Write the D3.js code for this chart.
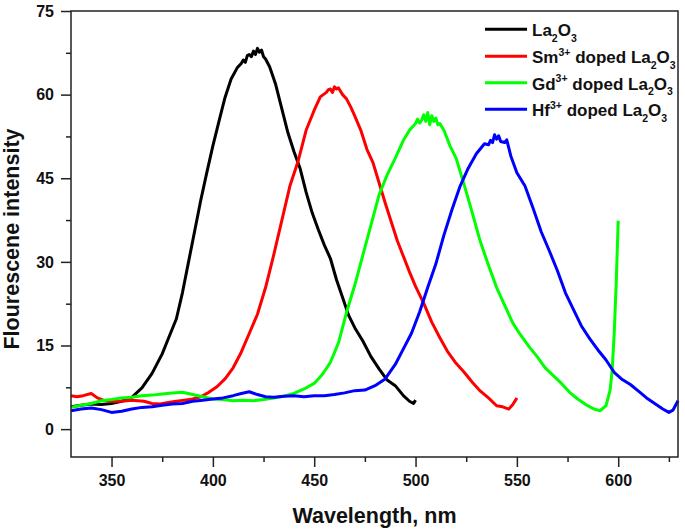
<!DOCTYPE html>
<html>
<head>
<meta charset="utf-8">
<script src="https://cdn.jsdelivr.net/npm/d3@7"></script>
<style>
  body { margin: 0; background: #fff; }
  text { font-family: "Liberation Sans", Arial, sans-serif; font-weight: bold; }
</style>
</head>
<body>
<div id="chart"></div>
<script>
// spectra (wavelength nm, intensity)
var laWave = [330,335,340,345,350,355,360,365,370,375,378,382,385,388,391,394,397,400,403,406,409,412,414,415,416,417,418,419,420,421,422,423,424,425,426,428,431,434,437,440,443,446,449,452,455,458,461,464,467,470,474,478,482,486,490,494,497,499,500];
var laVal  = [4.0,4.3,4.5,4.4,4.6,5.0,5.7,7.4,10.0,13.5,16.2,19.8,24.5,30.0,35.5,41.0,46.0,50.8,55.2,59.5,62.8,64.8,65.6,66.2,65.8,67.0,67.2,66.8,67.8,67.2,68.3,67.6,68.0,66.8,66.4,65.0,61.8,57.5,53.2,49.8,46.8,42.5,38.8,35.8,33.0,30.6,26.8,23.6,20.4,18.2,15.8,13.0,10.8,8.8,7.8,6.0,5.0,4.6,5.2];

var smWave = [330,333,336,340,343,346,350,355,360,366,370,374,378,382,386,390,394,398,402,406,410,414,418,422,426,430,434,438,442,446,450,453,456,457,458,459,460,461,462,464,466,468,470,473,476,479,482,485,488,491,494,497,500,504,508,512,516,520,524,528,532,536,540,543,546,548,550];
var smVal  = [6.0,5.8,6.0,6.4,5.6,5.2,5.0,5.0,5.2,5.0,4.6,4.5,4.8,5.0,5.2,5.4,5.8,6.6,7.6,9.0,11.0,13.8,17.2,20.6,25.4,31.2,37.4,43.6,48.0,53.6,57.2,59.6,60.4,60.9,61.0,60.4,61.4,61.0,61.2,60.0,59.2,57.8,56.2,53.6,50.2,47.8,44.2,40.6,37.2,33.8,31.0,28.2,25.6,22.6,19.2,16.4,13.8,11.8,10.2,8.4,6.8,5.6,4.2,4.0,3.6,4.4,5.6];

var gdWave = [330,335,340,345,350,355,360,365,370,375,380,385,390,395,400,405,410,415,420,425,430,435,440,445,450,454,458,462,466,470,474,478,482,486,490,494,497,500,501,502,503,504,505,506,507,508,509,510,511,512,514,517,520,524,528,532,536,540,544,548,552,556,560,564,568,572,576,580,584,588,591,594,596,597,598,599,600];
var gdVal  = [3.9,4.3,4.6,5.1,5.3,5.6,5.7,6.0,6.1,6.3,6.5,6.6,6.2,5.8,5.4,5.3,5.1,5.2,5.1,5.3,5.6,5.9,6.4,7.2,8.2,9.8,12.0,15.5,21.0,25.8,31.2,36.6,42.0,45.6,48.6,51.8,53.6,54.8,55.6,54.9,55.4,56.4,55.2,56.8,54.6,56.2,55.2,55.8,54.6,54.8,53.6,50.8,48.6,43.8,38.8,33.6,29.4,25.4,22.2,19.0,16.8,14.8,13.0,11.0,9.6,8.2,6.6,5.4,4.4,3.6,3.3,4.2,7.0,10.5,17.0,26.0,37.4];

var hfWave = [330,335,340,345,350,355,360,365,370,375,380,385,390,395,400,405,410,414,418,422,426,430,435,440,445,450,455,460,465,470,475,480,485,490,494,498,502,506,510,514,518,522,526,530,534,536,537,538,539,540,541,542,544,545,547,550,554,558,562,566,570,574,578,582,586,590,594,598,602,606,610,614,618,622,625,627,629.5];
var hfVal  = [3.3,3.6,3.8,3.5,3.0,3.2,3.6,3.9,4.0,4.3,4.5,4.6,5.0,5.2,5.4,5.6,6.0,6.4,6.7,6.2,5.8,5.7,5.9,6.0,5.8,6.0,6.0,6.2,6.5,6.9,7.0,7.8,9.0,11.6,14.4,17.2,21.0,25.4,29.6,34.8,39.4,43.6,46.8,49.4,51.2,51.0,51.8,51.4,52.8,52.0,52.6,51.6,51.4,51.9,49.0,46.0,43.6,39.6,35.4,32.0,28.4,24.4,21.4,18.4,16.2,14.2,12.4,10.2,8.9,8.0,6.8,5.6,4.6,3.6,3.0,3.4,5.1];

var seriesNames  = ["La2O3", "Sm", "Gd", "Hf"];
var seriesColors = ["#000000", "#ff0000", "#00ff00", "#0000ff"];

var xMajorTicks = [350,400,450,500,550,600];
var xMinorTicks = [375,425,475,525,575,625];
var yMajorTicks = [0,15,30,45,60,75];
var yMinorTicks = [7.5,22.5,37.5,52.5,67.5];

var width = 685, height = 530;
var margin = {top: 11, right: 7, bottom: 73, left: 71};

var svg = d3.select("#chart").append("svg")
    .attr("width", width)
    .attr("height", height);

var x = d3.scaleLinear()
    .domain([330, 629.5])
    .range([margin.left, width - margin.right]);

var y = d3.scaleLinear()
    .domain([-5, 75])
    .range([height - margin.bottom, margin.top]);

var series = [
    {wave: laWave, val: laVal},
    {wave: smWave, val: smVal},
    {wave: gdWave, val: gdVal},
    {wave: hfWave, val: hfVal}
];

var line = d3.line()
    .x(function(d){ return x(d[0]); })
    .y(function(d){ return y(d[1]); });

//curves
svg.append("g").selectAll("path").data(series)
    .enter()
    .append("path")
    .attr("d", function(d){
        return line(d.wave.map(function(w, i){ return [w, d.val[i]]; }));
    })
    .attr("fill", "none")
    .attr("stroke", function(d, i){ return seriesColors[i]; })
    .attr("stroke-width", 3)
    .attr("stroke-linejoin", "round");

// axes
var axisColor = "#222";
function styleAxis(g) {
    g.select(".domain").remove();
    g.selectAll("line").attr("stroke", axisColor).attr("stroke-width", 1.5);
    g.selectAll("text").attr("font-size", "16px").attr("fill", "#111");
}

svg.append("g")
    .attr("transform", "translate(0," + y(-5) + ")")
    .call(d3.axisBottom(x).tickValues(xMajorTicks).tickSize(10).tickPadding(8))
    .call(styleAxis);
svg.append("g")
    .attr("transform", "translate(0," + y(-5) + ")")
    .call(d3.axisBottom(x).tickValues(xMinorTicks).tickSize(5).tickFormat(""))
    .call(styleAxis);

svg.append("g")
    .attr("transform", "translate(" + x(330) + ",0)")
    .call(d3.axisLeft(y).tickValues(yMajorTicks).tickSize(10).tickPadding(7))
    .call(styleAxis);
svg.append("g")
    .attr("transform", "translate(" + x(330) + ",0)")
    .call(d3.axisLeft(y).tickValues(yMinorTicks).tickSize(5).tickFormat(""))
    .call(styleAxis);

// frame
svg.append("rect")
    .attr("x", x(330))
    .attr("y", y(75))
    .attr("width", x(629.5) - x(330))
    .attr("height", y(-5) - y(75))
    .attr("fill", "none")
    .attr("stroke", axisColor)
    .attr("stroke-width", 1.5);

// axis titles
svg.append("text")
    .attr("x", (x(330) + x(629.5)) / 2)
    .attr("y", 522.5)
    .attr("text-anchor", "middle")
    .attr("font-size", "21.5px")
    .attr("fill", "#111")
    .text("Wavelength, nm");

svg.append("text")
    .attr("transform", "translate(18.5,239) rotate(-90)")
    .attr("text-anchor", "middle")
    .attr("font-size", "21.5px")
    .attr("fill", "#111")
    .text("Flourescene intensity");

// legend
var legendSup = ["", "3+", "3+", "3+"];
var legendEl  = ["", "Sm", "Gd", "Hf"];
var legend = svg.append("g");
var rowY = [29.3, 56.3, 82.8, 109.3];

seriesNames.forEach(function(name, i){
    legend.append("line")
        .attr("x1", 485).attr("x2", 527)
        .attr("y1", rowY[i]).attr("y2", rowY[i])
        .attr("stroke", seriesColors[i])
        .attr("stroke-width", 3);

    var t = legend.append("text")
        .attr("x", 532)
        .attr("y", rowY[i] + 6.7)
        .attr("font-size", "17px")
        .attr("fill", "#111");
    if (legendEl[i] != "") {
        t.append("tspan").text(legendEl[i]);
        t.append("tspan").attr("font-size", "10.5px").attr("dy", -7.5).text(legendSup[i]);
        t.append("tspan").attr("dy", 7.5).text(" doped La");
    } else {
        t.append("tspan").text("La");
    }
    t.append("tspan").attr("font-size", "10.5px").attr("dy", 5.5).text("2");
    t.append("tspan").attr("dy", -5.5).text("O");
    t.append("tspan").attr("font-size", "10.5px").attr("dy", 5.5).text("3");
});
</script>
</body>
</html>
